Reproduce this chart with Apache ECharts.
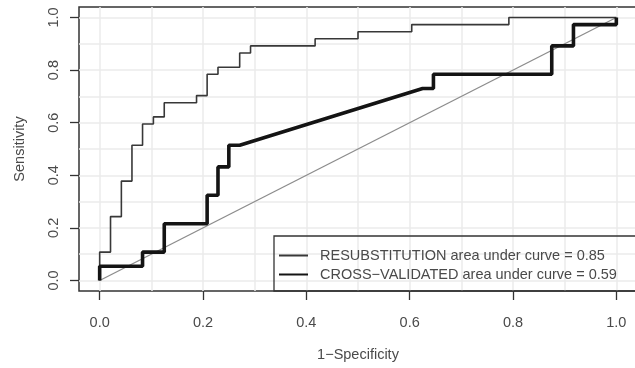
<!DOCTYPE html>
<html>
<head>
<meta charset="utf-8">
<script src="https://cdn.jsdelivr.net/npm/echarts@6/dist/echarts.min.js"></script>
<style>
  html, body { margin: 0; padding: 0; background: #ffffff; }
  #chart { width: 635px; height: 368px; }
</style>
</head>
<body>
<div id="chart"></div>
<script>
// ROC curve vertices (1-specificity, sensitivity)
const resubFpr = [0, 0, 0.021, 0.021, 0.042, 0.042, 0.0625, 0.0625, 0.083, 0.083, 0.104, 0.104,
  0.125, 0.125, 0.1875, 0.1875, 0.208, 0.208, 0.229, 0.229, 0.271, 0.271, 0.292, 0.292,
  0.417, 0.417, 0.5, 0.5, 0.604, 0.604, 0.792, 0.792, 1];
const resubTpr = [0, 0.108, 0.108, 0.243, 0.243, 0.378, 0.378, 0.514, 0.514, 0.595, 0.595, 0.622,
  0.622, 0.676, 0.676, 0.703, 0.703, 0.784, 0.784, 0.811, 0.811, 0.865, 0.865, 0.892,
  0.892, 0.919, 0.919, 0.946, 0.946, 0.973, 0.973, 1, 1];

const cvFpr = [0, 0, 0.083, 0.083, 0.125, 0.125, 0.208, 0.208, 0.229, 0.229, 0.25, 0.25,
  0.271, 0.625, 0.646, 0.646, 0.875, 0.875, 0.917, 0.917, 1, 1];
const cvTpr = [0, 0.054, 0.054, 0.108, 0.108, 0.216, 0.216, 0.324, 0.324, 0.432, 0.432, 0.514,
  0.514, 0.730, 0.730, 0.784, 0.784, 0.892, 0.892, 0.973, 0.973, 1];

const chanceLine = [[0, 0], [1, 1]];

const tickValues = [0, 0.2, 0.4, 0.6, 0.8, 1];
const gridValues = [0, 0.1, 0.2, 0.3, 0.4, 0.5, 0.6, 0.7, 0.8, 0.9, 1];

const resubName = "RESUBSTITUTION area under curve = 0.85";
const cvName = "CROSS\u2212VALIDATED area under curve = 0.59";

const font = "'Liberation Sans', Arial, Helvetica, sans-serif";
const textColor = "#4a4a4a";

const chart = echarts.init(document.getElementById("chart"), null, { renderer: "canvas" });

// axis that shows ticks + labels
const labelAxis = (extra) => Object.assign({
  type: "value",
  min: -0.04,
  max: 1.04,
  axisLine: { show: false, onZero: false },
  axisTick: {
    show: true,
    length: 9,
    customValues: tickValues,
    lineStyle: { color: "#333333", width: 1.3 },
  },
  axisLabel: {
    customValues: tickValues,
    color: textColor,
    fontSize: 14.5,
    fontFamily: font,
    formatter: (v) => v.toFixed(1),
  },
  splitLine: { show: false },
  nameLocation: "middle",
  nameTextStyle: { color: textColor, fontSize: 14.5, fontFamily: font },
}, extra);

// hidden axis that only draws the light grid
const gridAxis = (pos) => ({
  type: "value",
  position: pos,
  min: -0.04,
  max: 1.04,
  axisLine: { show: false, onZero: false },
  axisTick: { show: false, customValues: gridValues },
  axisLabel: { show: false },
  splitLine: { show: true, lineStyle: { color: "#ebebeb", width: 1.5 } },
});

const xLab = labelAxis({ position: "bottom", name: "1\u2212Specificity", nameGap: 56 });
xLab.axisLabel.margin = 24;
const yLab = labelAxis({ position: "left", name: "Sensitivity", nameGap: 52 });
yLab.axisLabel.rotate = 90;
yLab.axisLabel.margin = 18;

const option = {
  animation: false,
  backgroundColor: "#ffffff",
  grid: {
    left: 79,
    top: 7,
    width: 558,
    height: 284,
    outerBoundsMode: "none",
    show: true,
    borderColor: "#333333",
    borderWidth: 1.5,
    backgroundColor: "transparent",
  },
  xAxis: [xLab, gridAxis("top")],
  yAxis: [yLab, gridAxis("right")],
  // legend frame runs off the right edge like the original
  graphic: [{
    type: "rect",
    shape: { x: 274, y: 236, width: 380, height: 55 },
    style: { fill: "none", stroke: "#333333", lineWidth: 1.3 },
    silent: true,
    z: 10,
  }],
  legend: {
    data: [resubName, cvName],
    orient: "vertical",
    left: 274,
    top: 236,
    padding: [12, 10, 10, 4],
    itemGap: 4,
    itemWidth: 29,
    itemHeight: 14,
    borderWidth: 0,
    backgroundColor: "transparent",
    itemStyle: { opacity: 0 },
    textStyle: {
      color: textColor,
      fontSize: 14.5,
      fontFamily: font,
      padding: [0, 0, 0, 7],
      lineHeight: 14,
    },
  },
  series: [
    {
      type: "line",
      data: chanceLine,
      symbol: "none",
      silent: true,
      lineStyle: { color: "#8c8c8c", width: 1.3 },
      z: 2,
    },
    {
      name: resubName,
      type: "line",
      data: resubFpr.map((x, i) => [x, resubTpr[i]]),
      symbol: "none",
      lineStyle: { color: "#383838", width: 1.6 },
      itemStyle: { color: "#383838" },
      z: 3,
    },
    {
      name: cvName,
      type: "line",
      data: cvFpr.map((x, i) => [x, cvTpr[i]]),
      symbol: "none",
      lineStyle: { color: "#141414", width: 3.6 },
      itemStyle: { color: "#141414" },
      z: 4,
    },
  ],
};

chart.setOption(option);
</script>
</body>
</html>
